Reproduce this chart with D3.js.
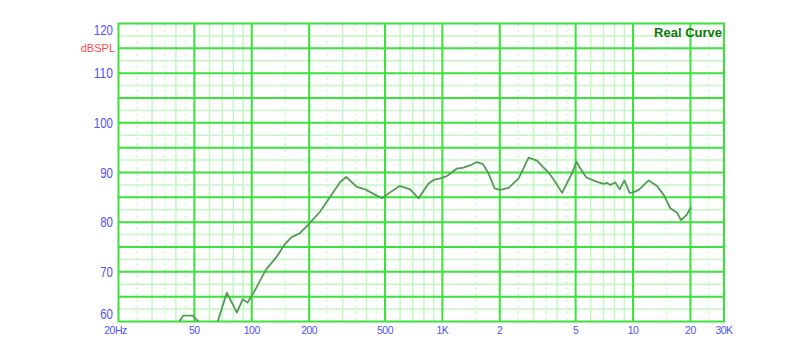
<!DOCTYPE html>
<html>
<head>
<meta charset="utf-8">
<script src="https://cdn.jsdelivr.net/npm/d3@7"></script>
<style>
  body { margin: 0; background: #fff; }
  text { font-family: Arial, "Liberation Sans", sans-serif; }
</style>
</head>
<body>
<div id="chart"></div>
<script>
// measured response, Hz / dBSPL (null = curve falls below the plot)
const freqs = [41.6, 43.8, 49, 52.5, null, 66.3, 74, 83.5, 89.7, 94.9, 102, 118.5, 135, 150, 162, 179, 198,
  228, 258, 291, 313, 356, 394, 430, 482, 532, 596, 678, 750, 846, 898, 975, 1057, 1192, 1291, 1430,
  1518, 1632, 1747, 1878, 2012, 2224, 2512, 2832, 3135, 3650, 3834, 4244, 4594, 4786, 5043, 5293, 5690,
  6474, 7014, 7306, 7603, 8075, 8512, 9008, 9600, 10000, 10710, 12080, 13370, 14480, 15700, 17020,
  17870, 19050, 20180];
const spl = [60, 61.2, 61.2, 60, null, 60, 65.8, 61.8, 64.5, 63.8, 65.7, 70.4, 73.0, 75.7, 77.0, 77.8, 79.5,
  82.1, 85.1, 88.1, 89.1, 87.1, 86.6, 85.8, 84.8, 86.0, 87.3, 86.6, 84.8, 87.8, 88.5, 88.8, 89.3, 90.8, 91.0, 91.6,
  92.1, 91.7, 89.8, 86.8, 86.5, 86.9, 88.8, 93.0, 92.4, 89.7, 88.6, 85.9, 88.5, 89.8, 92.2, 90.8, 89.0,
  88.1, 87.7, 87.9, 87.5, 88.0, 86.6, 88.4, 85.9, 86.0, 86.5, 88.4, 87.3, 85.5, 82.8, 81.9,
  80.4, 81.4, 83.0];

const yTicks = [60, 70, 80, 90, 100, 110, 120];
const xTicks = [20, 50, 100, 200, 500, 1000, 2000, 5000, 10000, 20000, 30000];
const xTickLabels = ["20Hz", "50", "100", "200", "500", "1K", "2", "5", "10", "20", "30K"];
const majorFreqs = [50, 100, 200, 500, 1000, 2000, 5000, 10000, 20000];

var width = 800, height = 359;
var plot = { left: 118.5, right: 724, top: 23.5, bottom: 321.5 };

var x = d3.scaleLog().domain([20, 30000]).range([plot.left, plot.right]);
var y = d3.scaleLinear().domain([60, 120]).range([plot.bottom, plot.top]);

var svg = d3.select("#chart")
  .append("svg")
  .attr("width", width)
  .attr("height", height);

svg.append("rect").attr("width", width).attr("height", height).attr("fill", "#fff");

// minor grid lines (1..9 per decade, plus dotted half steps)
var minorSolid = [], minorDotted = [];
[10, 100, 1000, 10000].forEach((dec) => {
  for (let m = 1; m <= 9; m++) {
    const f = m * dec;
    if (f > 20 && f < 30000 && !majorFreqs.includes(f)) minorSolid.push(f);
  }
  [1.5, 2.5, 3.5, 4.5].forEach((m) => {
    const f = m * dec;
    if (f > 20 && f < 30000) minorDotted.push(f);
  });
});

var grid = svg.append("g").attr("class", "grid");

grid.selectAll("line.hminor")
  .data(d3.range(62.5, 120, 5))
  .enter()
  .append("line")
  .attr("x1", plot.left).attr("x2", plot.right)
  .attr("y1", (d) => y(d)).attr("y2", (d) => y(d))
  .attr("stroke", "#c4f7c4")
  .attr("stroke-width", 1.5);

grid.selectAll("line.vdot")
  .data(minorDotted)
  .enter()
  .append("line")
  .attr("x1", (d) => x(d)).attr("x2", (d) => x(d))
  .attr("y1", plot.top).attr("y2", plot.bottom)
  .attr("stroke", "#c4f7c4")
  .attr("stroke-width", 1.5)
  .attr("stroke-dasharray", "2,4");

grid.selectAll("line.vminor")
  .data(minorSolid)
  .enter()
  .append("line")
  .attr("x1", (d) => x(d)).attr("x2", (d) => x(d))
  .attr("y1", plot.top).attr("y2", plot.bottom)
  .attr("stroke", "#c4f7c4")
  .attr("stroke-width", 1.5);

grid.selectAll("line.hmajor")
  .data(d3.range(65, 120, 5))
  .enter()
  .append("line")
  .attr("x1", plot.left).attr("x2", plot.right)
  .attr("y1", (d) => y(d)).attr("y2", (d) => y(d))
  .attr("stroke", "#3ae23a")
  .attr("stroke-width", 2);

grid.selectAll("line.vmajor")
  .data(majorFreqs)
  .enter()
  .append("line")
  .attr("x1", (d) => x(d)).attr("x2", (d) => x(d))
  .attr("y1", plot.top).attr("y2", plot.bottom)
  .attr("stroke", "#3ae23a")
  .attr("stroke-width", 2);

svg.append("rect")
  .attr("x", plot.left).attr("y", plot.top)
  .attr("width", plot.right - plot.left)
  .attr("height", plot.bottom - plot.top)
  .attr("fill", "none")
  .attr("stroke", "#3ae23a")
  .attr("stroke-width", 2);

// curve
var points = freqs.map((f, i) => [f, spl[i]]);
var line = d3.line()
  .defined((d) => d[0] !== null && d[1] !== null)
  .x((d) => x(d[0]))
  .y((d) => y(d[1]));

svg.append("path")
  .datum(points)
  .attr("d", line)
  .attr("fill", "none")
  .attr("stroke", "#529b52")
  .attr("stroke-width", 1.8)
  .attr("stroke-linejoin", "round");

// y labels (end labels nudged inside, like the original)
svg.append("g")
  .selectAll("text")
  .data(yTicks)
  .enter()
  .append("text")
  .attr("x", 113)
  .attr("y", (d) => Math.min(Math.max(y(d), 30), 314))
  .attr("dy", "0.36em")
  .attr("text-anchor", "end")
  .attr("font-size", "14px")
  .attr("textLength", (d) => String(d).length * 6.4)
  .attr("lengthAdjust", "spacingAndGlyphs")
  .attr("fill", "#5252ff")
  .text((d) => d);

svg.append("text")
  .attr("x", 115)
  .attr("y", 48)
  .attr("dy", "0.36em")
  .attr("text-anchor", "end")
  .attr("font-size", "11px")
  .attr("fill", "#ff4a4a")
  .text("dBSPL");

// x labels
svg.append("g")
  .selectAll("text")
  .data(xTicks)
  .enter()
  .append("text")
  .attr("x", (d, i) => x(d) + (i === 0 ? -3 : 0))
  .attr("y", 330.5)
  .attr("dy", "0.36em")
  .attr("text-anchor", "middle")
  .attr("font-size", "10.5px")
  .attr("letter-spacing", "-0.5px")
  .attr("fill", "#5252ff")
  .text((d, i) => xTickLabels[i]);

svg.append("text")
  .attr("x", 722)
  .attr("y", 37)
  .attr("text-anchor", "end")
  .attr("font-size", "13px")
  .attr("font-weight", "bold")
  .attr("fill", "#0a7a0a")
  .text("Real Curve");
</script>
</body>
</html>
